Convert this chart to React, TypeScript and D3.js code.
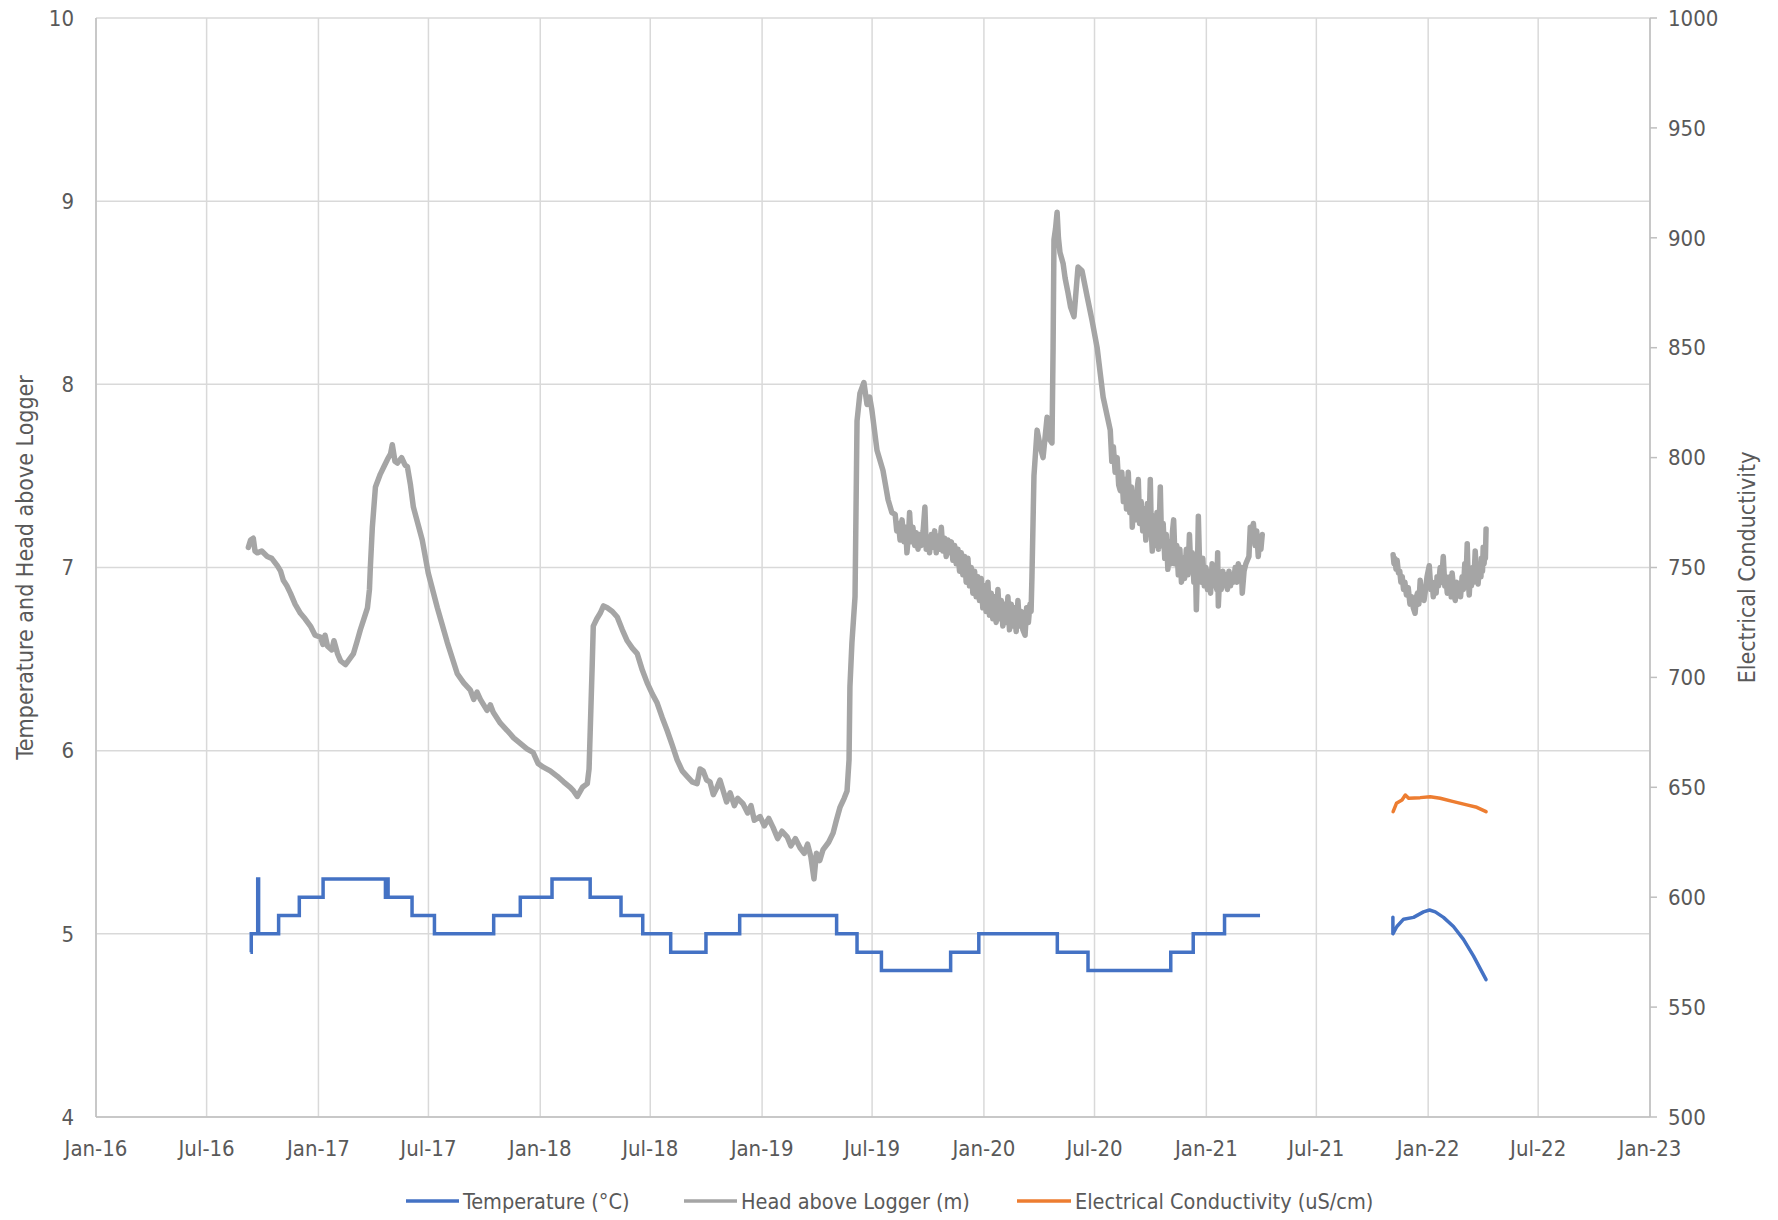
import * as d3 from "d3";

// decimal years, values in the units of each axis
const temperature2016: [number, number][] = [
  [2016.694, 4.9], [2016.698, 5.0], [2016.727, 5.3], [2016.731, 5.0],
  [2016.821, 5.1], [2016.914, 5.2], [2017.021, 5.3], [2017.302, 5.2],
  [2017.308, 5.3], [2017.314, 5.2], [2017.422, 5.1], [2017.523, 5.0],
  [2017.79, 5.1], [2017.91, 5.2], [2018.053, 5.3], [2018.225, 5.2],
  [2018.364, 5.1], [2018.462, 5.0], [2018.588, 4.9], [2018.747, 5.0],
  [2018.899, 5.1], [2019.336, 5.0], [2019.428, 4.9], [2019.538, 4.8],
  [2019.85, 4.9], [2019.977, 5.0], [2020.33, 4.9], [2020.468, 4.8],
  [2020.84, 4.9], [2020.941, 5.0], [2021.082, 5.1], [2021.242, 5.1],
];

const temperature2021: [number, number][] = [
  [2021.841, 5.09], [2021.841, 5.0], [2021.859, 5.04], [2021.889, 5.08],
  [2021.934, 5.09], [2021.979, 5.12], [2022.006, 5.13], [2022.032, 5.12],
  [2022.069, 5.09], [2022.114, 5.04], [2022.159, 4.97], [2022.204, 4.88],
  [2022.261, 4.75],
];

const head2016: [number, number][] = [
  [2016.685, 7.11], [2016.695, 7.15], [2016.707, 7.16], [2016.715, 7.09], [2016.725, 7.08],
  [2016.745, 7.09], [2016.77, 7.06], [2016.79, 7.05], [2016.815, 7.01], [2016.83, 6.98],
  [2016.842, 6.93], [2016.858, 6.9], [2016.874, 6.86], [2016.895, 6.8], [2016.919, 6.75],
  [2016.94, 6.72], [2016.964, 6.68], [2016.985, 6.63], [2017.009, 6.62], [2017.02, 6.58],
  [2017.03, 6.63], [2017.041, 6.57], [2017.06, 6.55], [2017.07, 6.6], [2017.086, 6.53],
  [2017.1, 6.49], [2017.122, 6.47], [2017.14, 6.5], [2017.158, 6.53], [2017.175, 6.6],
  [2017.189, 6.66], [2017.205, 6.72], [2017.221, 6.78], [2017.23, 6.88], [2017.234, 7.0],
  [2017.243, 7.22], [2017.257, 7.44], [2017.279, 7.51], [2017.295, 7.55], [2017.311, 7.59],
  [2017.325, 7.62], [2017.333, 7.67], [2017.345, 7.58], [2017.356, 7.57], [2017.375, 7.6],
  [2017.39, 7.56], [2017.401, 7.55], [2017.415, 7.45], [2017.428, 7.33], [2017.448, 7.24],
  [2017.468, 7.15], [2017.495, 6.97], [2017.536, 6.78], [2017.581, 6.59], [2017.626, 6.42],
  [2017.655, 6.37], [2017.685, 6.33], [2017.7, 6.28], [2017.715, 6.32], [2017.73, 6.28],
  [2017.76, 6.22], [2017.775, 6.25], [2017.788, 6.21], [2017.82, 6.15], [2017.851, 6.11],
  [2017.88, 6.07], [2017.91, 6.04], [2017.94, 6.01], [2017.968, 5.99], [2017.99, 5.93],
  [2018.014, 5.91], [2018.045, 5.89], [2018.077, 5.86], [2018.105, 5.83], [2018.135, 5.8],
  [2018.15, 5.78], [2018.167, 5.75], [2018.19, 5.8], [2018.212, 5.82], [2018.22, 5.9],
  [2018.225, 6.1], [2018.234, 6.46], [2018.239, 6.68], [2018.255, 6.72], [2018.27, 6.75],
  [2018.285, 6.79], [2018.302, 6.78], [2018.325, 6.76], [2018.347, 6.73], [2018.37, 6.66],
  [2018.392, 6.6], [2018.415, 6.56], [2018.437, 6.53], [2018.46, 6.44], [2018.482, 6.37],
  [2018.505, 6.31], [2018.527, 6.26], [2018.55, 6.18], [2018.572, 6.11], [2018.595, 6.03],
  [2018.617, 5.95], [2018.64, 5.89], [2018.662, 5.86], [2018.685, 5.83], [2018.707, 5.82],
  [2018.72, 5.9], [2018.734, 5.89], [2018.75, 5.84], [2018.765, 5.83], [2018.78, 5.76],
  [2018.797, 5.8], [2018.81, 5.84], [2018.825, 5.78], [2018.84, 5.72], [2018.856, 5.77],
  [2018.875, 5.7], [2018.89, 5.74], [2018.914, 5.71], [2018.935, 5.66], [2018.95, 5.7],
  [2018.965, 5.62], [2018.991, 5.64], [2019.01, 5.59], [2019.03, 5.63], [2019.05, 5.58],
  [2019.07, 5.52], [2019.09, 5.56], [2019.113, 5.53], [2019.13, 5.48], [2019.15, 5.52],
  [2019.171, 5.47], [2019.19, 5.44], [2019.205, 5.49], [2019.22, 5.42], [2019.234, 5.3],
  [2019.245, 5.44], [2019.26, 5.4], [2019.275, 5.46], [2019.3, 5.5], [2019.32, 5.55],
  [2019.335, 5.62], [2019.351, 5.69], [2019.37, 5.74], [2019.383, 5.78], [2019.392, 5.95],
  [2019.396, 6.35], [2019.405, 6.59], [2019.419, 6.84], [2019.428, 7.8], [2019.441, 7.95],
  [2019.459, 8.01], [2019.473, 7.89], [2019.485, 7.93], [2019.495, 7.86], [2019.518, 7.64],
  [2019.545, 7.53], [2019.568, 7.37], [2019.585, 7.3], [2019.6, 7.29], [2019.607, 7.2],
  [2019.615, 7.24], [2019.622, 7.15], [2019.631, 7.26], [2019.64, 7.14], [2019.647, 7.22],
  [2019.653, 7.08], [2019.66, 7.18], [2019.665, 7.3], [2019.672, 7.14], [2019.68, 7.22],
  [2019.688, 7.12], [2019.695, 7.19], [2019.703, 7.1], [2019.71, 7.18], [2019.718, 7.12],
  [2019.726, 7.2], [2019.734, 7.33], [2019.74, 7.1], [2019.748, 7.16], [2019.755, 7.08],
  [2019.763, 7.18], [2019.77, 7.11], [2019.778, 7.2], [2019.785, 7.08], [2019.793, 7.17],
  [2019.8, 7.1], [2019.808, 7.22], [2019.815, 7.09], [2019.823, 7.16], [2019.83, 7.06],
  [2019.838, 7.15], [2019.845, 7.08], [2019.853, 7.14], [2019.86, 7.04], [2019.868, 7.12],
  [2019.875, 7.02], [2019.883, 7.1], [2019.89, 6.98], [2019.898, 7.08], [2019.905, 6.96],
  [2019.913, 7.06], [2019.92, 6.92], [2019.928, 7.05], [2019.935, 6.9], [2019.943, 7.0],
  [2019.95, 6.86], [2019.958, 6.98], [2019.965, 6.84], [2019.973, 6.95], [2019.98, 6.82],
  [2019.988, 6.94], [2019.995, 6.78], [2020.003, 6.9], [2020.01, 6.76], [2020.018, 6.92],
  [2020.025, 6.74], [2020.033, 6.86], [2020.04, 6.72], [2020.048, 6.84], [2020.055, 6.7],
  [2020.063, 6.88], [2020.07, 6.72], [2020.078, 6.82], [2020.085, 6.68], [2020.093, 6.8],
  [2020.1, 6.7], [2020.108, 6.84], [2020.115, 6.66], [2020.123, 6.8], [2020.13, 6.68],
  [2020.138, 6.78], [2020.145, 6.65], [2020.153, 6.82], [2020.16, 6.68], [2020.168, 6.76],
  [2020.175, 6.66], [2020.185, 6.63], [2020.192, 6.78], [2020.2, 6.7], [2020.207, 6.8],
  [2020.212, 6.76], [2020.216, 6.95], [2020.225, 7.5], [2020.239, 7.75], [2020.255, 7.65],
  [2020.266, 7.6], [2020.284, 7.82], [2020.295, 7.7], [2020.306, 7.68], [2020.311, 8.2],
  [2020.315, 8.79], [2020.322, 8.85], [2020.329, 8.94], [2020.335, 8.8], [2020.342, 8.72],
  [2020.356, 8.66], [2020.365, 8.58], [2020.378, 8.5], [2020.39, 8.42], [2020.405, 8.37],
  [2020.423, 8.64], [2020.441, 8.62], [2020.464, 8.48], [2020.486, 8.35], [2020.509, 8.2],
  [2020.523, 8.06], [2020.536, 7.93], [2020.568, 7.75], [2020.575, 7.58], [2020.582, 7.66],
  [2020.59, 7.52], [2020.599, 7.6], [2020.606, 7.45], [2020.613, 7.42], [2020.62, 7.52],
  [2020.627, 7.36], [2020.634, 7.48], [2020.641, 7.32], [2020.649, 7.52], [2020.656, 7.3],
  [2020.663, 7.44], [2020.667, 7.22], [2020.674, 7.38], [2020.681, 7.26], [2020.688, 7.42],
  [2020.694, 7.48], [2020.7, 7.24], [2020.707, 7.36], [2020.714, 7.2], [2020.721, 7.32],
  [2020.728, 7.15], [2020.735, 7.35], [2020.742, 7.2], [2020.748, 7.48], [2020.753, 7.18],
  [2020.757, 7.09], [2020.764, 7.28], [2020.771, 7.12], [2020.778, 7.3], [2020.785, 7.1],
  [2020.793, 7.44], [2020.799, 7.12], [2020.806, 7.24], [2020.813, 7.05], [2020.82, 7.18],
  [2020.827, 6.99], [2020.834, 7.14], [2020.841, 7.02], [2020.848, 7.2], [2020.853, 7.26],
  [2020.86, 7.02], [2020.867, 7.12], [2020.874, 6.96], [2020.881, 7.1], [2020.888, 6.92],
  [2020.895, 7.05], [2020.902, 6.94], [2020.91, 7.1], [2020.917, 6.96], [2020.924, 7.18],
  [2020.93, 7.0], [2020.937, 7.08], [2020.944, 6.92], [2020.951, 7.02], [2020.955, 6.77],
  [2020.96, 7.0], [2020.964, 7.28], [2020.97, 7.0], [2020.977, 6.92], [2020.984, 7.05],
  [2020.991, 6.9], [2020.998, 7.0], [2021.005, 6.88], [2021.012, 6.98], [2021.019, 6.86],
  [2021.026, 7.02], [2021.033, 6.9], [2021.04, 7.0], [2021.047, 6.88], [2021.051, 7.08],
  [2021.054, 6.79], [2021.06, 6.95], [2021.067, 6.88], [2021.074, 6.98], [2021.081, 6.9],
  [2021.088, 6.96], [2021.095, 6.88], [2021.102, 6.98], [2021.109, 6.9], [2021.116, 6.96],
  [2021.123, 6.92], [2021.13, 7.0], [2021.137, 6.92], [2021.144, 7.02], [2021.151, 6.94],
  [2021.158, 7.0], [2021.162, 6.86], [2021.17, 6.98], [2021.178, 7.02], [2021.185, 7.04],
  [2021.192, 7.06], [2021.198, 7.22], [2021.205, 7.2], [2021.212, 7.24], [2021.22, 7.12],
  [2021.227, 7.2], [2021.234, 7.06], [2021.24, 7.15], [2021.246, 7.1], [2021.252, 7.18],
];

const head2021: [number, number][] = [
  [2021.842, 7.07], [2021.846, 7.02], [2021.85, 7.05], [2021.855, 6.99], [2021.86, 7.04],
  [2021.866, 6.97], [2021.872, 6.98], [2021.877, 6.92], [2021.883, 6.95], [2021.889, 6.88],
  [2021.895, 6.92], [2021.902, 6.85], [2021.91, 6.89], [2021.918, 6.8], [2021.925, 6.84],
  [2021.933, 6.78], [2021.941, 6.75], [2021.947, 6.84], [2021.952, 6.86], [2021.958, 6.8],
  [2021.964, 6.93], [2021.97, 6.84], [2021.975, 6.88], [2021.981, 6.82], [2021.986, 6.86],
  [2021.995, 6.95], [2022.005, 7.01], [2022.012, 6.88], [2022.018, 6.92], [2022.023, 6.84],
  [2022.03, 6.9], [2022.036, 6.86], [2022.04, 6.95], [2022.047, 6.9], [2022.054, 7.0],
  [2022.06, 6.92], [2022.068, 7.06], [2022.075, 6.9], [2022.08, 6.95], [2022.086, 6.86],
  [2022.093, 6.92], [2022.1, 6.95], [2022.104, 6.84], [2022.108, 6.97], [2022.115, 6.88],
  [2022.122, 6.82], [2022.128, 6.92], [2022.134, 6.86], [2022.14, 6.9], [2022.146, 6.84],
  [2022.153, 6.95], [2022.159, 6.88], [2022.165, 7.02], [2022.17, 6.92], [2022.176, 7.13],
  [2022.18, 6.95], [2022.185, 6.85], [2022.19, 6.96], [2022.195, 6.9], [2022.2, 7.0],
  [2022.206, 6.92], [2022.212, 7.09], [2022.218, 6.96], [2022.225, 6.91], [2022.232, 7.02],
  [2022.238, 6.95], [2022.24, 7.05], [2022.245, 6.98], [2022.248, 7.11], [2022.252, 7.02],
  [2022.255, 7.08], [2022.258, 7.05], [2022.261, 7.21],
];

const conductivity2021: [number, number][] = [
  [2021.842, 638.9], [2021.857, 642.7], [2021.882, 644.2], [2021.897, 646.5],
  [2021.912, 645.0], [2021.964, 645.3], [2022.009, 645.7], [2022.054, 645.0],
  [2022.114, 643.5], [2022.174, 642.0], [2022.219, 640.9], [2022.261, 638.9],
];

const leftTicks = [4, 5, 6, 7, 8, 9, 10];
const rightTicks = [500, 550, 600, 650, 700, 750, 800, 850, 900, 950, 1000];

const legendItems = [
  { label: "Temperature (°C)", color: "#4472C4", x1: 406, x2: 459 },
  { label: "Head above Logger (m)", color: "#A5A5A5", x1: 684, x2: 737 },
  { label: "Electrical Conductivity (uS/cm)", color: "#ED7D31", x1: 1017, x2: 1071 },
];

const W = 1778;
const H = 1220;
const margin = { left: 96, right: 128, top: 18, bottom: 103 };
const FONT = "'Liberation Sans Narrow', 'DejaVu Sans Condensed', 'Liberation Sans', sans-serif";
const TEXT = "#595959";

// decimal year -> Date
function yearToDate(t: number) {
  const y = Math.floor(t);
  const a = new Date(y, 0, 1).getTime();
  const b = new Date(y + 1, 0, 1).getTime();
  return new Date(a + (t - y) * (b - a));
}

export default function App() {
  const x = d3
    .scaleTime()
    .domain([new Date(2016, 0, 1), new Date(2023, 0, 1)])
    .range([margin.left, W - margin.right]);
  const yL = d3.scaleLinear().domain([4, 10]).range([H - margin.bottom, margin.top]);
  const yR = d3.scaleLinear().domain([500, 1000]).range([H - margin.bottom, margin.top]);

  const monthTicks = x.ticks(d3.timeMonth.every(6)!);
  const fmt = d3.timeFormat("%b-%y");

  const stepLine = d3
    .line<[number, number]>()
    .x((d) => x(yearToDate(d[0])))
    .y((d) => yL(d[1]))
    .curve(d3.curveStepAfter);
  const leftLine = d3
    .line<[number, number]>()
    .x((d) => x(yearToDate(d[0])))
    .y((d) => yL(d[1]));
  const rightLine = d3
    .line<[number, number]>()
    .x((d) => x(yearToDate(d[0])))
    .y((d) => yR(d[1]));

  const x0 = margin.left;
  const x1 = W - margin.right;
  const yTop = margin.top;
  const yBot = H - margin.bottom;
  const midY = (yTop + yBot) / 2;

  const seriesStyle = {
    fill: "none",
    strokeWidth: 3.5,
    strokeLinejoin: "round" as const,
    strokeLinecap: "round" as const,
  };

  return (
    <div style={{ position: "absolute", left: 0, top: 0 }}>
      <svg width={W} height={H} style={{ display: "block", background: "#fff" }} fontFamily={FONT}>
        {/* gridlines */}
        {leftTicks.map((t) => (
          <line key={"h" + t} x1={x0} x2={x1} y1={yL(t)} y2={yL(t)} stroke="#D9D9D9" strokeWidth={1.5} />
        ))}
        {monthTicks.map((d, i) => (
          <line key={"v" + i} x1={x(d)} x2={x(d)} y1={yTop} y2={yBot} stroke="#D9D9D9" strokeWidth={1.5} />
        ))}

        {/* axis lines */}
        <line x1={x0} x2={x0} y1={yTop} y2={yBot} stroke="#BFBFBF" strokeWidth={1.5} />
        <line x1={x1} x2={x1} y1={yTop} y2={yBot} stroke="#BFBFBF" strokeWidth={1.5} />
        <line x1={x0} x2={x1} y1={yBot} y2={yBot} stroke="#BFBFBF" strokeWidth={1.5} />
        {rightTicks.map((t) => (
          <line key={"rt" + t} x1={x1} x2={x1 + 7} y1={yR(t)} y2={yR(t)} stroke="#BFBFBF" strokeWidth={1.5} />
        ))}

        {/* series */}
        <path d={leftLine(head2016) || ""} stroke="#A5A5A5" {...seriesStyle} strokeWidth={5.5} />
        <path d={leftLine(head2021) || ""} stroke="#A5A5A5" {...seriesStyle} strokeWidth={5.5} />
        <path d={stepLine(temperature2016) || ""} stroke="#4472C4" {...seriesStyle} strokeLinejoin="miter" strokeLinecap="butt" />
        <path d={leftLine(temperature2021) || ""} stroke="#4472C4" {...seriesStyle} />
        <path d={rightLine(conductivity2021) || ""} stroke="#ED7D31" {...seriesStyle} />

        {/* left tick labels */}
        {leftTicks.map((t) => (
          <text key={"lt" + t} x={74} y={yL(t)} dy="0.35em" textAnchor="end" fontSize={22} fill={TEXT}>
            {t}
          </text>
        ))}
        {/* right tick labels */}
        {rightTicks.map((t) => (
          <text key={"rl" + t} x={1668} y={yR(t)} dy="0.35em" textAnchor="start" fontSize={22} fill={TEXT}>
            {t}
          </text>
        ))}
        {/* x tick labels */}
        {monthTicks.map((d, i) => (
          <text key={"xl" + i} x={x(d)} y={1148} dy="0.35em" textAnchor="middle" fontSize={22} fill={TEXT}>
            {fmt(d)}
          </text>
        ))}

        {/* axis titles */}
        <text transform={`translate(25,${midY}) rotate(-90)`} dy="0.35em" textAnchor="middle" fontSize={23} fill={TEXT}>
          Temperature and Head above Logger
        </text>
        <text transform={`translate(1747,${midY}) rotate(-90)`} dy="0.35em" textAnchor="middle" fontSize={23} fill={TEXT}>
          Electrical Conductivity
        </text>

        {/* legend */}
        {legendItems.map((it) => (
          <g key={it.label}>
            <line x1={it.x1} x2={it.x2} y1={1201} y2={1201} stroke={it.color} strokeWidth={3.5} />
            <text x={it.x2 + 4} y={1201} dy="0.35em" fontSize={21.5} fill={TEXT}>
              {it.label}
            </text>
          </g>
        ))}
      </svg>
    </div>
  );
}
